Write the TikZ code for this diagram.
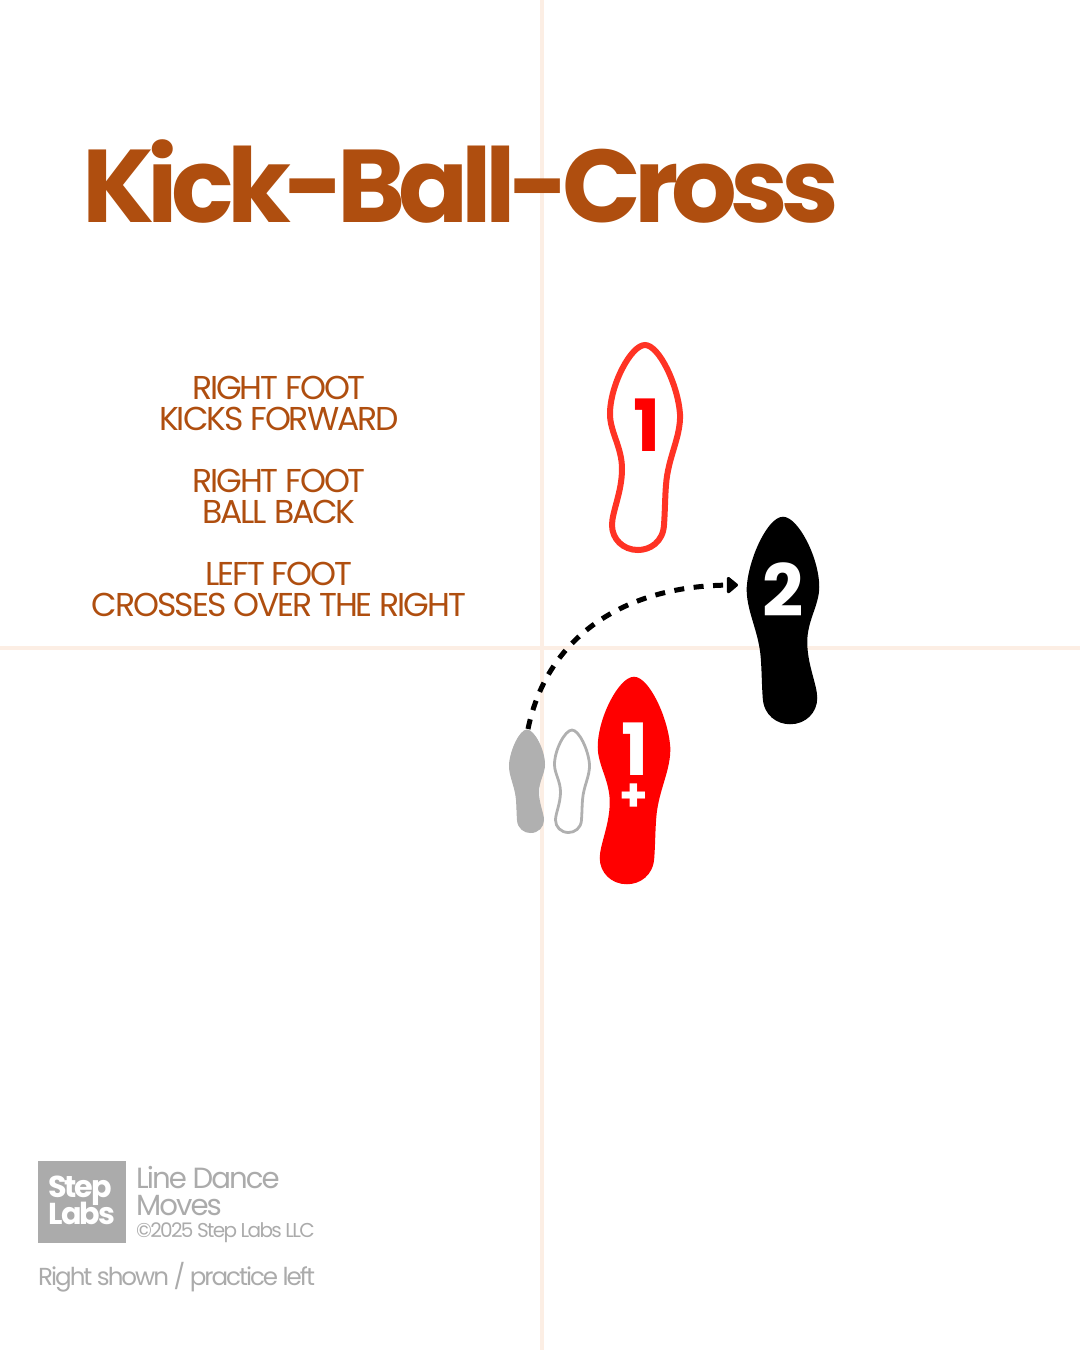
\documentclass[tikz,border=0pt]{standalone}
\usepackage{fontspec}
\usetikzlibrary{arrows.meta}
\setmainfont{Poppins}
\newfontfamily\boldfont{Poppins Bold}
\definecolor{rust}{HTML}{AF4E0F}
\definecolor{guide}{HTML}{FCEEE4}
\definecolor{stepred}{HTML}{FF0000}
\definecolor{soleline}{HTML}{FF3324}
\definecolor{ghost}{HTML}{B0B0B0}
\definecolor{logogray}{HTML}{ABABAB}
\tikzset{
  pics/sole/.style={code={
    \path[pic actions] (0,-102)
      .. controls (14,-102) and (33,-62) .. (35,-33)
      .. controls (36,-10) and (23,10) .. (21,38)
      .. controls (20,50) and (20,65) .. (19,78)
      .. controls (18,95) and (5,103) .. (-7,103)
      .. controls (-22,103) and (-33,92) .. (-33,78)
      .. controls (-33,65) and (-23,45) .. (-23,22)
      .. controls (-23,0) and (-35,-15) .. (-35,-33)
      .. controls (-35,-62) and (-14,-102) .. (0,-102) -- cycle;
  }},
  guideline/.style={guide, line width=.045cm},
  bodytext/.style={text=rust, align=center, inner sep=0pt,
    font=\addfontfeature{LetterSpace=-6.2}\fontsize{9.4}{8.82}\selectfont},
  numtext/.style={inner sep=0pt, font=\boldfont\fontsize{20.5}{20.5}\selectfont},
  marktext/.style={logogray, inner sep=0pt, anchor=base west},
  logotext/.style={text=white, inner sep=0pt, anchor=base,
    font=\boldfont\addfontfeature{LetterSpace=-7}\fontsize{8.6}{8.6}\selectfont},
  hoparr/.style={-{Triangle[round, length=.12cm, width=.19cm]}, line width=.05cm,
    dash pattern=on .1cm off .095cm}
}
\begin{document}
\begin{tikzpicture}[x=0.01cm,y=-0.01cm]
  \useasboundingbox (0,0) rectangle (1080,1350);
  \draw[guideline] (542,0) -- (542,1350);
  \draw[guideline] (0,648) -- (1080,648);
  \node[text=rust, inner sep=0pt, anchor=base west,
    font=\boldfont\addfontfeature{LetterSpace=-6.65}\fontsize{29.4}{29.4}\selectfont]
    (title) at (82,222) {Kick-Ball-Cross};
  % text blocks
  \node[bodytext] (kick) at (279,403) {RIGHT FOOT\\KICKS FORWARD};
  \node[bodytext] (ball) at (279,496) {RIGHT FOOT\\BALL BACK};
  \node[bodytext] (cross) at (279,589) {LEFT FOOT\\CROSSES OVER THE RIGHT};
  % feet
  \pic[draw=soleline, line width=.06cm] at (645,447) {sole};
  \pic[draw=stepred, fill=stepred, line width=.025cm] at (634,780) {sole};
  \pic[draw=black, fill=black, xscale=-1, line width=.025cm] at (783,620) {sole};
  \pic[draw=ghost, fill=ghost, xscale=-.5, yscale=.5, line width=.01cm] at (527,781) {sole};
  \pic[draw=ghost, scale=.5, line width=.028cm] at (572,781) {sole};
  \node[numtext, text=stepred] (one) at (647,425) {1};
  \node[numtext, text=white] (two) at (783,590) {2};
  \node[numtext, text=white] (oneb) at (635,749) {1};
  \node[numtext, text=white, font=\boldfont\fontsize{13}{13}\selectfont] (plus) at (634,798) {+};
  % hop
  \coordinate (hopstart) at (528,729);
  \coordinate (hopend) at (738,585);
  \draw[hoparr] (hopstart) .. controls (548,632) and (630,586) .. (hopend);
  % logo
  \node[fill=logogray, minimum width=.88cm, minimum height=.82cm, inner sep=0pt, anchor=north west] (logo) at (37.5,1160) {};
  \node[logotext] (step) at (80,1197) {Step};
  \node[logotext] (labs) at (82,1224) {Labs};
  \node[marktext, font=\addfontfeature{LetterSpace=-6.7}\fontsize{8.3}{8.3}\selectfont] (line) at (135.5,1188) {Line Dance};
  \node[marktext, font=\addfontfeature{LetterSpace=-6.7}\fontsize{8.3}{8.3}\selectfont] (moves) at (135.5,1215) {Moves};
  \node[marktext, font=\addfontfeature{LetterSpace=-8.5}\fontsize{5.7}{5.7}\selectfont] (copy) at (135.5,1237) {©2025 Step Labs LLC};
  \node[marktext, font=\addfontfeature{LetterSpace=-8.3}\fontsize{7}{7}\selectfont] (shown) at (37.5,1285) {Right shown / practice left};
\end{tikzpicture}
\end{document}
